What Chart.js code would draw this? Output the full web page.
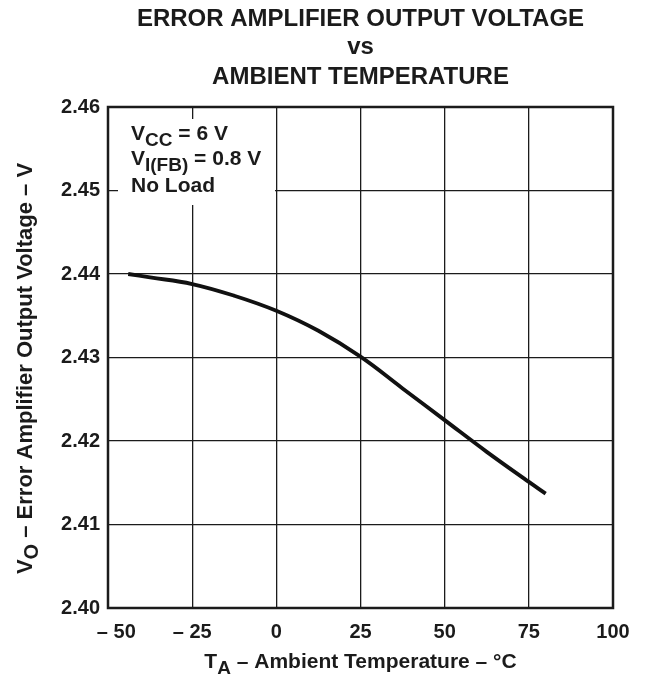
<!DOCTYPE html>
<html>
<head>
<meta charset="utf-8">
<script src="https://cdn.jsdelivr.net/npm/chart.js@4"></script>
<style>
  html, body { margin: 0; padding: 0; background: #fff; }
  #wrap { width: 649px; height: 677px; }
</style>
</head>
<body>
<div id="wrap"><canvas id="chart" width="649" height="677"></canvas></div>
<script>
// Curve
const temps = [-44, -37.5, -25, -12.5, 0, 12.5, 25, 37.5, 50, 62.5, 75, 80];
const volts = [2.4400, 2.4396, 2.4388, 2.4374, 2.4356, 2.4332, 2.4301, 2.4263, 2.4225, 2.4187, 2.4151, 2.4137];

const titleLines = ['ERROR AMPLIFIER OUTPUT VOLTAGE', 'vs', 'AMBIENT TEMPERATURE'];
const noteLines = [['V', 'CC', ' = 6 V'], ['V', 'I(FB)', ' = 0.8 V'], ['No Load', '', '']];
const xTitle = ['T', 'A', ' – Ambient Temperature – °C'];
const yTitle = ['V', 'O', ' – Error Amplifier Output Voltage – V'];

const FONT = '"Liberation Sans", Arial, Helvetica, sans-serif';
const INK = '#1b1b1b';

// draw text with a subscript part, starting at x (left aligned)
function subText(ctx, x, y, parts, size) {
    ctx.font = 'bold ' + size + 'px ' + FONT;
    ctx.fillText(parts[0], x, y);
    x += ctx.measureText(parts[0]).width;
    if (parts[1]) {
        ctx.font = 'bold ' + Math.round(size * 0.9) + 'px ' + FONT;
        ctx.fillText(parts[1], x, y + size * 0.28);
        x += ctx.measureText(parts[1]).width;
    }
    ctx.font = 'bold ' + size + 'px ' + FONT;
    ctx.fillText(parts[2], x, y);
    return x + ctx.measureText(parts[2]).width;
}

function subWidth(ctx, parts, size) {
    ctx.font = 'bold ' + size + 'px ' + FONT;
    let w = ctx.measureText(parts[0]).width + ctx.measureText(parts[2]).width;
    ctx.font = 'bold ' + Math.round(size * 0.9) + 'px ' + FONT;
    return w + ctx.measureText(parts[1]).width;
}

const decorations = {
    id: 'decorations',
    beforeDatasetsDraw(chart) {
        const ctx = chart.ctx;
        const a = chart.chartArea;
        // white box behind the conditions text
        ctx.save();
        ctx.fillStyle = '#fff';
        ctx.fillRect(a.left + 10, a.top + 12, 157, 86);
        ctx.fillStyle = INK;
        ctx.textBaseline = 'alphabetic';
        ctx.textAlign = 'left';
        const ys = [140, 165, 192];
        noteLines.forEach((p, i) => subText(ctx, a.left + 23, ys[i], p, 21));
        ctx.restore();
    },
    afterDraw(chart) {
        const ctx = chart.ctx;
        const a = chart.chartArea;
        const cx = (a.left + a.right) / 2;
        ctx.save();
        // frame
        ctx.strokeStyle = INK;
        ctx.lineWidth = 2.5;
        ctx.strokeRect(a.left, a.top, a.right - a.left, a.bottom - a.top);

        // title
        ctx.fillStyle = INK;
        ctx.textAlign = 'center';
        ctx.textBaseline = 'alphabetic';
        ctx.font = 'bold 24px ' + FONT;
        const ty = [26, 54, 84];
        titleLines.forEach((t, i) => ctx.fillText(t, cx, ty[i]));

        // x axis title
        ctx.textAlign = 'left';
        let w = subWidth(ctx, xTitle, 21);
        subText(ctx, cx - w / 2, 668, xTitle, 21);

        // y axis title
        ctx.translate(32, (a.top + a.bottom) / 2 + 11);
        ctx.rotate(-Math.PI / 2);
        w = subWidth(ctx, yTitle, 22);
        subText(ctx, -w / 2, 0, yTitle, 22);
        ctx.restore();
    }
};

new Chart(document.getElementById('chart'), {
    type: 'line',
    data: {
        datasets: [{
            data: temps.map((t, i) => ({ x: t, y: volts[i] })),
            borderColor: '#111',
            borderWidth: 3.8,
            pointRadius: 0,
            tension: 0.4,
            fill: false
        }]
    },
    options: {
        responsive: false,
        animation: false,
        layout: { padding: { top: 107, right: 36, left: 0, bottom: 0 } },
        plugins: { legend: { display: false }, tooltip: { enabled: false } },
        scales: {
            x: {
                type: 'linear',
                min: -50,
                max: 100,
                afterFit: s => { s.height = 69; },
                grid: { color: INK, lineWidth: 1.3, drawTicks: false },
                border: { display: false },
                ticks: {
                    stepSize: 25,
                    padding: 12,
                    color: INK,
                    font: { family: FONT, size: 20, weight: 'bold' },
                    // the first label sits a little right of its tick, clear of 2.40
                    callback: v => v === -50 ? '   – 50' : (v < 0 ? '– ' + Math.abs(v) : String(v))
                }
            },
            y: {
                min: 2.40,
                max: 2.46,
                afterFit: s => { s.width = 108; },
                grid: { color: INK, lineWidth: 1.3, drawTicks: false },
                border: { display: false },
                ticks: {
                    stepSize: 0.01,
                    padding: 8,
                    color: INK,
                    font: { family: FONT, size: 20, weight: 'bold' },
                    callback: v => v.toFixed(2)
                }
            }
        }
    },
    plugins: [decorations]
});
</script>
</body>
</html>
